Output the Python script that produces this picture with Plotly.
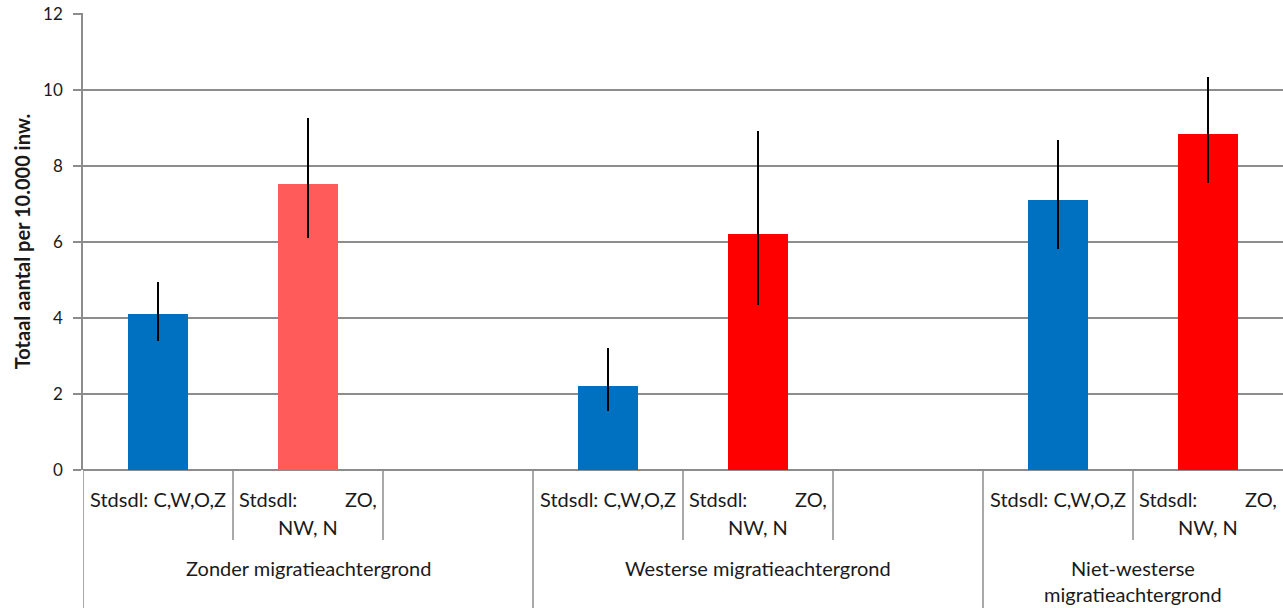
import plotly.graph_objects as go

# groups and sub-categories (text as in the original Excel chart, <br> = wrapped line)
groups = ["Zonder migratieachtergrond", "Westerse migratieachtergrond", "Niet-westerse<br>migratieachtergrond"]
sub_labels = ["Stdsdl: C,W,O,Z", "Stdsdl: ZO,<br>NW, N"]

# Stadsdelen C, W, O, Z (blue)
blue_vals = [4.11, 2.20, 7.10]
blue_low = [3.38, 1.55, 5.82]
blue_high = [4.95, 3.22, 8.68]

# Stadsdelen ZO, NW, N (red)
red_vals = [7.52, 6.21, 8.83]
red_low = [6.10, 4.35, 7.55]
red_high = [9.25, 8.91, 10.33]

blue_colors = ["#0070C0", "#0070C0", "#0070C0"]
red_colors = ["#FF5B5B", "#FF0000", "#FF0000"]
y_ticks = [0, 2, 4, 6, 8, 10, 12]

W, H = 1283, 608
M_L, M_R, M_T, M_B = 83, 0, 13, 138
PLOT_H = H - M_T - M_B
SLOTS = 3  # two bars + one empty slot per group
X_MAX = 7.5
GRID = "#8C8C8C"
FONT = "Lato"

blue_x = [g * SLOTS for g in range(len(groups))]
red_x = [g * SLOTS + 1 for g in range(len(groups))]

fig = go.Figure()
fig.add_trace(go.Bar(
    x=blue_x, y=blue_vals, width=0.405, marker=dict(color=blue_colors, line=dict(width=0)),
    error_y=dict(type="data", symmetric=False,
                 array=[h - v for h, v in zip(blue_high, blue_vals)],
                 arrayminus=[v - l for v, l in zip(blue_vals, blue_low)],
                 color="black", thickness=2, width=0),
    name=sub_labels[0], showlegend=False))
fig.add_trace(go.Bar(
    x=red_x, y=red_vals, width=0.405, marker=dict(color=red_colors, line=dict(width=0)),
    error_y=dict(type="data", symmetric=False,
                 array=[h - v for h, v in zip(red_high, red_vals)],
                 arrayminus=[v - l for v, l in zip(red_vals, red_low)],
                 color="black", thickness=2, width=0),
    name=sub_labels[1].replace("<br>", " "), showlegend=False))

def px_to_paper(px):
    return -px / PLOT_H

shapes = []
annotations = []
txt = dict(family=FONT, size=20, color="#1a1a1a")

for g, grp in enumerate(groups):
    start = g * SLOTS - 0.5
    end = min(start + SLOTS, X_MAX)
    # group separator, down to the bottom of the picture
    shapes.append(dict(type="line", xref="x", yref="paper", x0=start, x1=start,
                       y0=0, y1=px_to_paper(M_B), line=dict(color=GRID, width=1.5)))
    # sub-category separators
    for k in range(1, SLOTS):
        xb = start + k
        if xb < X_MAX:
            shapes.append(dict(type="line", xref="x", yref="paper", x0=xb, x1=xb,
                               y0=0, y1=px_to_paper(70), line=dict(color=GRID, width=1.5)))
    # sub-category labels (justified like Excel)
    for s, lab in enumerate(sub_labels):
        cx = g * SLOTS + s
        lines = lab.split("<br>")
        for i, line in enumerate(lines):
            dy = 29 + i * 28
            words = line.split(" ")
            if i < len(lines) - 1 and len(words) > 1:
                annotations.append(dict(x=cx - 0.5, y=0, xref="x", yref="paper", text=words[0],
                                        xanchor="left", yanchor="middle", xshift=4, yshift=-dy,
                                        showarrow=False, font=txt))
                annotations.append(dict(x=cx + 0.5, y=0, xref="x", yref="paper", text=words[-1],
                                        xanchor="right", yanchor="middle", xshift=-4, yshift=-dy,
                                        showarrow=False, font=txt))
            else:
                annotations.append(dict(x=cx, y=0, xref="x", yref="paper", text=line,
                                        xanchor="center", yanchor="middle", yshift=-dy,
                                        showarrow=False, font=txt))
    # group label, centred on the visible part of the group
    for i, line in enumerate(grp.split("<br>")):
        annotations.append(dict(x=(start + end) / 2, y=0, xref="x", yref="paper", text=line,
                                xanchor="center", yanchor="middle", yshift=-(98 + i * 26),
                                showarrow=False, font=txt))

fig.update_layout(
    width=W, height=H,
    margin=dict(l=M_L, r=M_R, t=M_T, b=M_B, autoexpand=False),
    paper_bgcolor="white", plot_bgcolor="white",
    font=dict(family=FONT, color="#1a1a1a"),
    bargap=0,
    shapes=shapes,
    annotations=annotations,
    xaxis=dict(range=[-0.5, X_MAX], showticklabels=False, showgrid=False,
               zeroline=False, showline=False, fixedrange=True, automargin=False),
    yaxis=dict(range=[0, 12.02], tickvals=y_ticks, showgrid=True, gridcolor=GRID, gridwidth=1.5,
               zeroline=True, zerolinecolor=GRID, zerolinewidth=1.5,
               showline=True, linecolor=GRID, linewidth=1.5,
               ticks="outside", ticklen=8, tickcolor=GRID, tickwidth=1.5,
               ticklabelstandoff=7, tickfont=dict(family=FONT, size=17, color="#1a1a1a"),
               title=dict(text="<b>Totaal aantal per 10.000 inw.</b>", standoff=7,
                          font=dict(family=FONT, size=20, color="#1a1a1a")),
               automargin=False, fixedrange=True),
)

# the page's default body margin would push the figure 8px right/down
fig.write_html("out.html", config={"displayModeBar": False},
               post_script="document.body.style.margin='0';")
